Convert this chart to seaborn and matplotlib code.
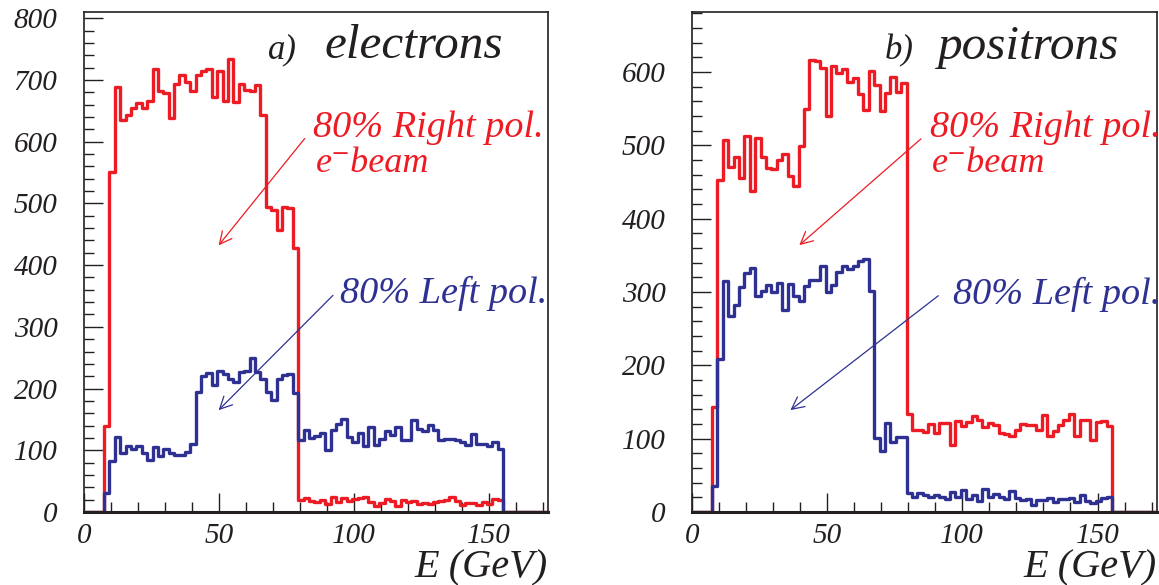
import numpy as np
import pandas as pd
import matplotlib
matplotlib.use("Agg")
import matplotlib.pyplot as plt
import seaborn as sns
from matplotlib.ticker import MultipleLocator

# binning of the energy spectra (GeV)
bin_start = 7.4
bin_width = 2.0
e_max = 172

# a) electrons
red_electrons = [140, 550, 689, 635, 643, 654, 663, 654, 666, 717, 682, 678, 639, 694, 708, 697, 682, 708,
                 715, 717, 672, 714, 666, 734, 664, 694, 683, 682, 692, 643, 494, 490, 457, 494, 492, 427,
                 20, 22, 18, 17, 20, 13, 24, 17, 22, 18, 21, 22, 24, 17, 9, 14, 21, 18, 10,
                 20, 17, 18, 13, 14, 13, 17, 18, 20, 25, 18, 11, 14, 15, 11, 17, 13, 21, 20]
blue_electrons = [30, 82, 121, 96, 107, 102, 107, 95, 85, 105, 91, 102, 96, 92, 92, 98, 110,
                  194, 220, 225, 206, 229, 224, 215, 211, 226, 229, 250, 226, 215, 195, 181, 216, 222, 224, 192,
                  116, 133, 120, 123, 128, 101, 133, 142, 150, 122, 114, 128, 107, 137, 108, 119, 132, 125, 138,
                  117, 116, 149, 135, 131, 141, 133, 117, 118, 119, 117, 114, 108, 126, 110, 110, 107, 114, 102]

# b) positrons
red_positrons = [143, 453, 508, 470, 484, 456, 513, 438, 510, 484, 469, 468, 480, 488, 458, 445, 499, 550,
                 617, 615, 605, 540, 608, 599, 604, 586, 592, 570, 549, 601, 582, 547, 571, 593, 573, 585,
                 134, 112, 112, 109, 120, 108, 121, 121, 92, 124, 117, 123, 131, 126, 116, 121, 118, 108, 107,
                 104, 112, 120, 119, 118, 112, 132, 103, 110, 119, 126, 134, 103, 126, 125, 98, 123, 124, 117]
blue_positrons = [36, 209, 315, 267, 282, 307, 326, 333, 294, 301, 310, 300, 312, 276, 311, 295, 288, 308,
                  317, 317, 335, 300, 310, 327, 335, 332, 335, 343, 345, 301, 101, 83, 121, 95, 102, 102,
                  26, 20, 26, 23, 20, 23, 20, 18, 27, 21, 30, 18, 23, 15, 32, 20, 24, 20, 18,
                  29, 19, 17, 18, 10, 16, 17, 19, 13, 18, 18, 19, 13, 23, 15, 12, 15, 19, 20]

sns.set_theme(style="ticks")
plt.rcParams["font.family"] = ["Liberation Serif", "DejaVu Serif"]
plt.rcParams["font.style"] = "italic"

RED = "#ed1c24"
BLUE = "#2e3192"
INK = "#231f20"

n_bins = len(red_electrons)
edges = [0.0] + list(bin_start + bin_width * np.arange(n_bins + 1)) + [e_max]
centers = bin_start + bin_width * (np.arange(n_bins) + 0.5)

rows = []
for sample, pol, vals in [("electrons", "right", red_electrons), ("electrons", "left", blue_electrons),
                          ("positrons", "right", red_positrons), ("positrons", "left", blue_positrons)]:
    rows.append(pd.DataFrame({"E": centers, "count": vals, "pol": pol, "sample": sample}))
df = pd.concat(rows, ignore_index=True)

fig = plt.figure(figsize=(11.59, 5.85), dpi=100)
ax_l = fig.add_axes([84 / 1159, 73 / 585, 464 / 1159, 500 / 585])
ax_r = fig.add_axes([692 / 1159, 73 / 585, 465 / 1159, 500 / 585])

panels = [
    (ax_l, "electrons", "a)", 810, (68.2, 735), (89, 735), (84.9, 607), (86, 551), (94.9, 338),
     ((81.8, 605), (49.9, 432)), ((92.3, 351), (49.9, 165))),
    (ax_r, "positrons", "b)", 682, (71.2, 618), (90.9, 618), (88.1, 511), (88.9, 464), (96.6, 284),
     ((84.7, 509), (39.7, 364)), ((91.1, 295), (36.4, 139))),
]

for ax, sample, tag, ytop, tag_xy, title_xy, rtxt_xy, beam_xy, ltxt_xy, rarrow, larrow in panels:
    for pol, col in [("right", RED), ("left", BLUE)]:
        sub = df[(df["sample"] == sample) & (df["pol"] == pol)]
        sns.histplot(data=sub, x="E", weights="count", bins=edges, element="step",
                     fill=False, color=col, linewidth=2.4, ax=ax)

    ax.set_xlim(0, e_max)
    ax.set_ylim(0, ytop)
    ax.xaxis.set_major_locator(MultipleLocator(50))
    ax.xaxis.set_minor_locator(MultipleLocator(10))
    ax.yaxis.set_major_locator(MultipleLocator(100))
    ax.yaxis.set_minor_locator(MultipleLocator(20))
    ax.tick_params(which="major", direction="in", length=14, width=1, colors=INK,
                   top=False, right=False, labelsize=21)
    ax.tick_params(which="minor", direction="in", length=7, width=1, colors=INK,
                   top=False, right=False)
    ax.tick_params(axis="y", which="major", pad=19)
    ax.tick_params(axis="x", which="major", pad=8)
    for side in ["left", "top", "right"]:
        ax.spines[side].set_linewidth(1.2)
        ax.spines[side].set_color(INK)
    ax.spines["bottom"].set_linewidth(2.2)
    ax.spines["bottom"].set_color(INK)
    ax.set_ylabel("")
    ax.set_xlabel("E (GeV)", loc="right", fontsize=29, color=INK, labelpad=0)

    ax.text(*tag_xy, tag, fontsize=25, color=INK)
    ax.text(*title_xy, sample, fontsize=35.5, color=INK)
    ax.text(*rtxt_xy, "80% Right pol.", fontsize=27.5, color=RED)
    ax.text(*beam_xy, "e\u207bbeam", fontsize=26, color=RED)
    ax.text(*ltxt_xy, "80% Left pol.", fontsize=27.5, color=BLUE)
    ax.annotate("", xy=rarrow[1], xytext=rarrow[0],
                arrowprops=dict(arrowstyle="->", color=RED, lw=0.9, shrinkA=0, shrinkB=0,
                                mutation_scale=22))
    ax.annotate("", xy=larrow[1], xytext=larrow[0],
                arrowprops=dict(arrowstyle="->", color=BLUE, lw=0.9, shrinkA=0, shrinkB=0,
                                mutation_scale=22))

fig.savefig("out.png", dpi=100)
